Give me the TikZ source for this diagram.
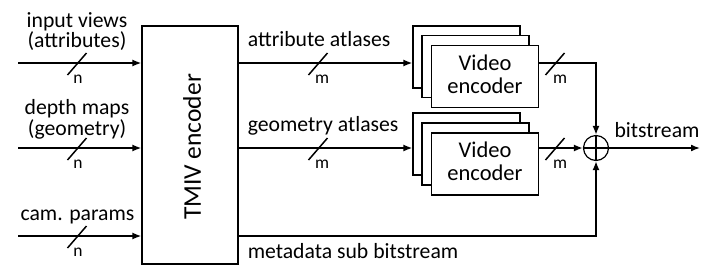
\documentclass[tikz,border=0pt]{standalone}
\usepackage{fontspec}
\setmainfont{Carlito}
\usetikzlibrary{arrows.meta,calc}
\begin{document}
\begin{tikzpicture}[x=1pt,y=-1pt,line width=1.6pt,>={Latex[length=9pt,width=7pt]}]
\useasboundingbox (0,0) rectangle (704,274);
\tikzset{
  lbl/.style={font=\fontsize{21.7}{23}\selectfont,inner sep=0pt},
  small/.style={font=\fontsize{17.5}{19}\selectfont,inner sep=0pt},
  box/.style={draw,line width=1.2pt,fill=white,inner sep=0pt},
  vbox/.style={box,minimum width=107pt,minimum height=62pt},
  vtxt/.style={font=\fontsize{22.5}{23}\selectfont,inner sep=0pt,anchor=base},
  slash/.style={line width=1.5pt}
}
% TMIV encoder
\node[box,minimum width=96pt,minimum height=238pt] (tmiv) at (190,145) {};
\node[rotate=90,font=\fontsize{25.5}{27}\selectfont] (tmivtxt) at (192,147) {TMIV encoder};
% inputs
\coordinate (i1) at (18,63);
\coordinate (i2) at (18,148);
\coordinate (i3) at (18,236);
\draw[->] (i1) -- (i1 -| tmiv.west);
\draw[->] (i2) -- (i2 -| tmiv.west);
\draw[->] (i3) -- (i3 -| tmiv.west);
\node[lbl,anchor=base] (l1a) at (77,27) {input views};
\node[lbl,anchor=base] (l1b) at (77,47) {(attributes)};
\node[lbl,anchor=base] (l2a) at (77,114) {depth maps};
\node[lbl,anchor=base] (l2b) at (77,135) {(geometry)};
\node[lbl,anchor=base] (l3) at (77.5,220) {cam. params};
\foreach \y/\n in {63/a,148/b,236/c}{
  \draw[slash] (67.5,\y+12) -- (86.5,\y-10);
  \node[small] (n\n) at (78,\y+16) {n};
}
% video encoders
\node[vbox] (v1c) at (466.5,57) {};
\node[vbox] (v1b) at (475.5,66.5) {};
\node[vbox] (v1) at (485,76.5) {};
\node[vtxt] (v1t1) at (v1 |- 0,70) {Video};
\node[vtxt] (v1t2) at (v1 |- 0,93) {encoder};
\node[vbox] (v2c) at (466.5,144) {};
\node[vbox] (v2b) at (475.5,154) {};
\node[vbox] (v2) at (485,164) {};
\node[vtxt] (v2t1) at (v2 |- 0,157.5) {Video};
\node[vtxt] (v2t2) at (v2 |- 0,180.5) {encoder};
% atlases
\coordinate (a1) at (0,63);
\coordinate (a2) at (0,148);
\draw[->] (a1 -| tmiv.east) -- (a1 -| v1c.west);
\draw[->] (a2 -| tmiv.east) -- (a2 -| v2c.west);
\node[lbl,anchor=base west] (la1) at (247,46) {attribute atlases};
\node[lbl,anchor=base west] (la2) at (247,131.5) {geometry atlases};
\foreach \y/\n in {63/a,148/b}{
  \draw[slash] (308.5,\y+12) -- (327.5,\y-10);
  \node[small] (m\n) at (322,\y+16) {m};
}
% sum
\node[draw,circle,line width=1.2pt,minimum size=25pt,inner sep=0pt] (sum) at (596,148) {};
\draw[line width=1.2pt] (sum.north) -- (sum.south) (sum.west) -- (sum.east);
\draw[->] (a1 -| v1.east) -| (sum.north);
\draw[->] (a2 -| v2.east) -- (sum.west);
\foreach \y/\n in {63/c,148/d}{
  \draw[slash] (545.5,\y+12) -- (564.5,\y-10);
  \node[small] (m\n) at (560,\y+16) {m};
}
% metadata
\coordinate (md) at (0,236);
\draw[->] (md -| tmiv.east) -| (sum.south);
\node[lbl,anchor=base west] (lmd) at (247,258) {metadata sub bitstream};
% output
\coordinate (out) at (700,148);
\draw[->] (sum.east) -- (out);
\node[lbl,anchor=base] (lbs) at (657,137) {bitstream};
\end{tikzpicture}
\end{document}
